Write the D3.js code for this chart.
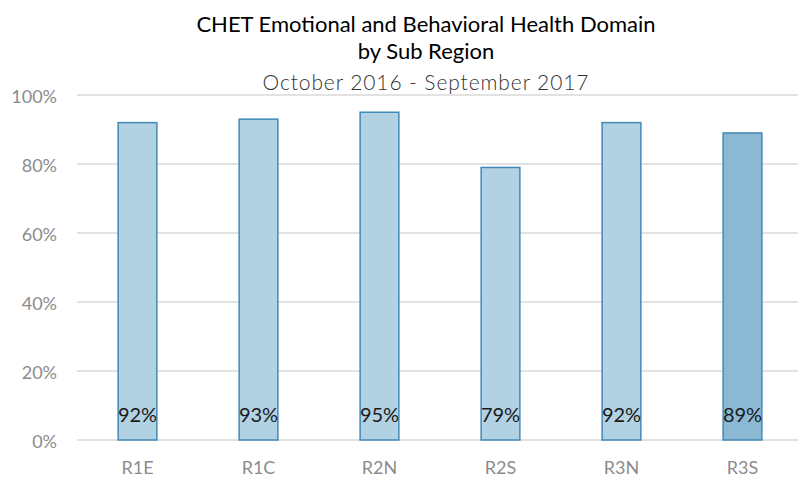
<!DOCTYPE html>
<html>
<head>
<meta charset="utf-8">
<script src="https://cdn.jsdelivr.net/npm/d3@7"></script>
<style>
  html, body { margin: 0; padding: 0; background: #fff; }
  svg { display: block; font-family: Lato, "Noto Sans", sans-serif; }
</style>
</head>
<body>
<svg id="chart" width="798" height="477"></svg>
<script>
// Sub-region results, October 2016 - September 2017
const regions = ["R1E", "R1C", "R2N", "R2S", "R3N", "R3S"];
const values = [92, 93, 95, 79, 92, 89];
const highlighted = ["R3S"];
const yTicks = [0, 20, 40, 60, 80, 100];
const titleLines = ["CHET Emotional and Behavioral Health Domain", "by Sub Region"];
const subtitle = "October 2016 - September 2017";

const svg = d3.select("#chart");
const margin = { top: 95, right: -5, bottom: 37, left: 77 };
const W = 798, H = 477;
const font = "Lato, 'Noto Sans', sans-serif";

const x = d3.scaleBand().domain(regions)
  .range([margin.left, W - margin.right]).paddingInner(0.68).paddingOuter(0.34);
const y = d3.scaleLinear().domain([0, 100]).range([H - margin.bottom, margin.top]);

// gridlines
svg.append("g").selectAll("line").data(yTicks).join("line")
  .attr("x1", margin.left).attr("x2", W)
  .attr("y1", d => y(d)).attr("y2", d => y(d))
  .attr("stroke", "#d9d9d9").attr("stroke-width", 1.3);

// y axis labels
const yAxis = d3.axisLeft(y).tickValues(yTicks).tickFormat(d => d + "%").tickSize(0).tickPadding(0);
svg.append("g").attr("transform", `translate(57,0)`).call(yAxis)
  .call(g => g.select(".domain").remove())
  .selectAll("text").attr("fill", "#8c8c8c").attr("font-size", 18).attr("dy", "0.42em")
  .attr("font-family", font);

// x axis labels
const xAxis = d3.axisBottom(x).tickSize(0).tickPadding(0);
svg.append("g").attr("transform", `translate(0,${H - 3})`).call(xAxis)
  .call(g => g.select(".domain").remove())
  .selectAll("text").attr("fill", "#8c8c8c").attr("font-size", 18).attr("dy", "0")
  .attr("font-family", font);

// bars
svg.append("g").selectAll("rect").data(regions).join("rect")
  .attr("x", d => x(d)).attr("width", x.bandwidth())
  .attr("y", (d, i) => y(values[i])).attr("height", (d, i) => y(0) - y(values[i]))
  .attr("fill", d => highlighted.includes(d) ? "#8bb9d4" : "#b2d1e3")
  .attr("stroke", "#4189b8").attr("stroke-width", 1.5);

// value labels
svg.append("g").selectAll("text").data(regions).join("text")
  .attr("x", d => x(d) + x.bandwidth() / 2).attr("y", y(0) - 18)
  .attr("text-anchor", "middle").attr("font-size", 20).attr("fill", "#1a1a1a")
  .text((d, i) => values[i] + "%");

// titles
svg.append("g").selectAll("text").data(titleLines).join("text")
  .attr("x", 426).attr("y", (d, i) => 32 + i * 27)
  .attr("text-anchor", "middle").attr("font-size", 22).attr("fill", "#000")
  .text(d => d);
svg.append("text").attr("x", 426).attr("y", 90).attr("text-anchor", "middle")
  .attr("font-size", 21).attr("font-weight", 300).attr("fill", "#333")
  .attr("letter-spacing", 0.9).text(subtitle);
</script>
</body>
</html>
